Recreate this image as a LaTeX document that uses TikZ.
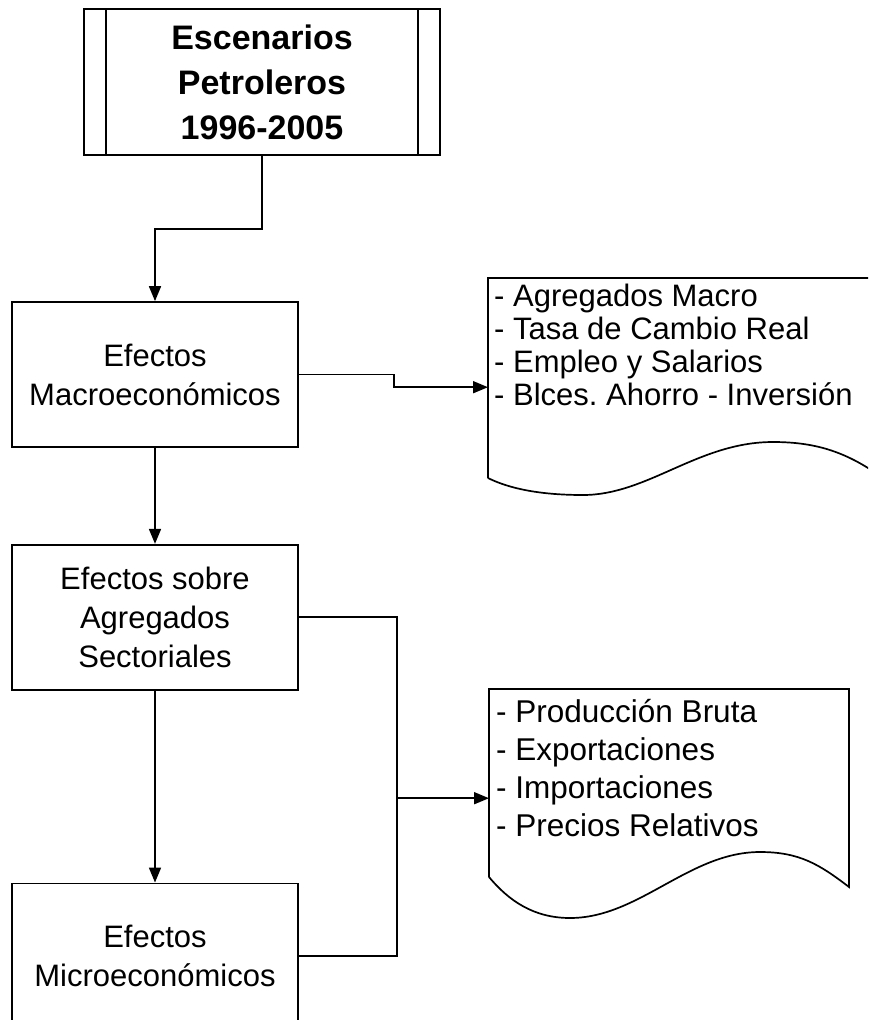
\documentclass[tikz,border=0pt]{standalone}
\usepackage{fontspec}
\setmainfont{Liberation Sans}
\usetikzlibrary{arrows.meta,positioning}
\frenchspacing

\begin{document}
\begin{tikzpicture}[
    x=1pt, y=-1pt,
    node distance=96pt,
    line/.style={line width=1.7pt},
    box/.style={draw, line width=1.7pt, align=center, minimum width=286pt,
    minimum height=145pt, inner sep=0pt, font=\fontsize{31}{39}\selectfont},
    docarea/.style={inner sep=0pt, minimum height=218pt, anchor=north west},
    listtext/.style={align=left, inner sep=0pt, anchor=north west},
    arr/.style={-{Triangle[length=15pt,width=12pt]}, line width=1.7pt}
]
\useasboundingbox (0,0) rectangle (868,1020);
\clip (0,0) rectangle (868,1020);

\node[box, minimum width=356pt, minimum height=146pt,
  font=\bfseries\fontsize{34}{45}\selectfont] (title) at (262,82)
  {Escenarios\\Petroleros\\1996-2005};
\draw[line] ([xshift=23pt]title.north west) -- ([xshift=23pt]title.south west);
\draw[line] ([xshift=-23pt]title.north east) -- ([xshift=-23pt]title.south east);

\node[box] (macro) at (155,374.5) {Efectos\\Macroeconómicos};
\node[box, below=of macro] (sectoral) {Efectos sobre\\Agregados\\Sectoriales};
\node[box, below=192pt of sectoral] (micro) {Efectos\\Microeconómicos};

% document shapes
\node[docarea, minimum width=395pt] (macrolist) at (488,278) {};
\draw[line, shift={(macrolist.north west)}] (0,200) -- (0,0) -- (395,0) -- (395,200)
  .. controls (360,175) and (330,164) .. (285,164)
  .. controls (210,164) and (160,217) .. (95,217)
  .. controls (50,217) and (20,210) .. (0,200);
\node[listtext, font=\fontsize{31}{33}\selectfont] (macroitems)
  at ([shift={(6,6)}]macrolist.north west)
  {- Agregados Macro\\- Tasa de Cambio Real\\- Empleo y Salarios\\- Blces. Ahorro - Inversión};

\node[docarea, minimum width=360pt] (prodlist) at (489,689) {};
\draw[line, shift={(prodlist.north west)}] (0,188) -- (0,0) -- (360,0) -- (360,198)
  .. controls (330,175) and (310,163) .. (271,163)
  .. controls (200,163) and (150,229) .. (81,229)
  .. controls (45,229) and (20,212) .. (0,188);
\node[listtext, font=\fontsize{31.5}{38}\selectfont] (proditems)
  at ([shift={(7,10)}]prodlist.north west)
  {- Producción Bruta\\- Exportaciones\\- Importaciones\\- Precios Relativos};

% connectors
\draw[arr] (title.south) -- ++(0,73) -| (macro.north);
\draw[arr] (macro.east) -- ++(95,0) |- (macrolist.west);
\draw[arr] (macro) -- (sectoral);
\draw[arr] (sectoral) -- (micro);
\draw[line] (sectoral.east) -- ++(98,0) coordinate (split) |- (micro.east);
\draw[arr] (split |- prodlist.west) -- (prodlist.west);
\end{tikzpicture}
\end{document}
